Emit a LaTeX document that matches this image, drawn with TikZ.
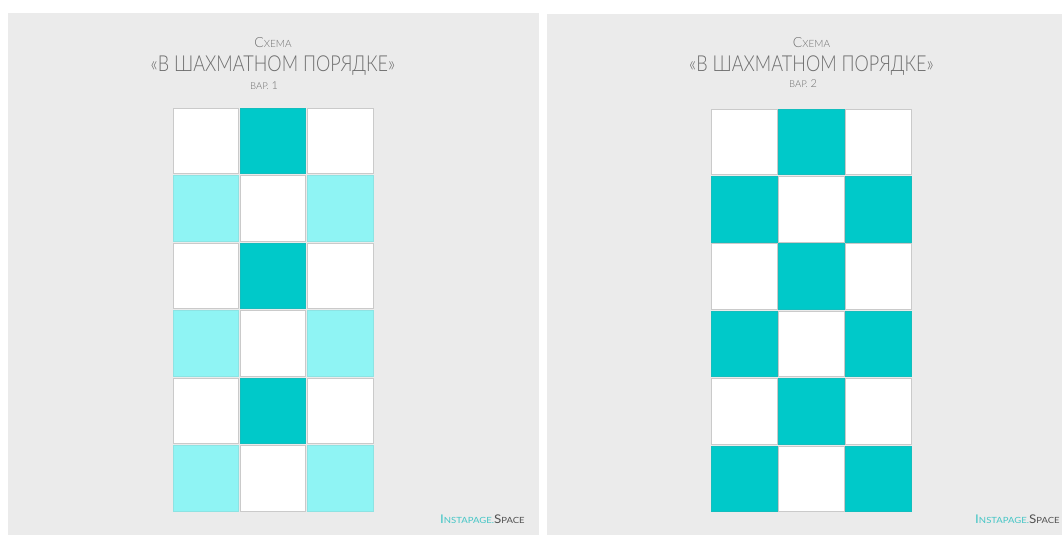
\documentclass[tikz,border=0pt]{standalone}
\usepackage{fontspec}
\usepackage{graphicx}
\setmainfont{Lato Light}
\newfontfamily\logofont{Lato}
\usetikzlibrary{positioning}
\definecolor{panelgray}{HTML}{EBEBEB}
\definecolor{tealdark}{HTML}{00C9C9}
\definecolor{teallight}{HTML}{8FF4F4}
\definecolor{textgray}{HTML}{6E6E6E}
\definecolor{logoteal}{HTML}{45C6C6}
\definecolor{logogray}{HTML}{505050}
\definecolor{cellline}{HTML}{CACACA}
\newcommand{\titletext}{\scalebox{0.82}[1]{\fontsize{22}{22}\selectfont «В ШАХМАТНОМ ПОРЯДКЕ»}}
\newcommand{\logotext}{\scalebox{1.12}[1]{\logofont\color{logoteal}\fontsize{12}{12}\selectfont I\fontsize{8.5}{9}\selectfont NSTAPAGE.\color{logogray}\fontsize{12}{12}\selectfont S\fontsize{8.5}{9}\selectfont PACE}}

\begin{document}
\begin{tikzpicture}[x=1pt,y=-1pt,every node/.style={text=textgray,inner sep=0pt},
  cell/.style={draw=cellline,line width=0.7pt,minimum size=65.5pt,fill=white},
  dark/.style={cell,fill=tealdark,draw=tealdark!85!gray},
  light/.style={cell,fill=teallight,draw=teallight!85!gray}]
\useasboundingbox (0,0) rectangle (1062,535);
\fill[white] (0,0) rectangle (1062,535);
\fill[panelgray] (8,13) rectangle (539,535);
\fill[panelgray] (547,14) rectangle (1062,535);
% var. 1
\foreach \r/\sa/\sb/\sc in {0/cell/dark/cell,1/light/cell/light,2/cell/dark/cell,3/light/cell/light,4/cell/dark/cell,5/light/cell/light}{
  \node[\sa] (a-\r-1) at (205.7,140.75+67.5*\r) {};
  \node[\sb] (a-\r-2) at (273,140.75+67.5*\r) {};
  \node[\sc] (a-\r-3) at (340.3,140.75+67.5*\r) {};
}
\node[anchor=base] (schemeA) at (273,48) {\fontsize{14}{14}\selectfont С\fontsize{10}{10}\selectfont ХЕМА};
\node[anchor=base] (titleA) at (273,71) {\titletext};
\node[anchor=base] (varA) at (264,89) {\fontsize{9.5}{9}\selectfont ВАР. \fontsize{11}{11}\selectfont 1};
\node[anchor=base west] (logoA) at (440,523) {\logotext};
% var. 2
\foreach \r/\sa/\sb/\sc in {0/cell/dark/cell,1/dark/cell/dark,2/cell/dark/cell,3/dark/cell/dark,4/cell/dark/cell,5/dark/cell/dark}{
  \node[\sa] (b-\r-1) at (744.5,141.7+67.4*\r) {};
  \node[\sb] (b-\r-2) at (811.5,141.7+67.4*\r) {};
  \node[\sc] (b-\r-3) at (878.5,141.7+67.4*\r) {};
}
\node[anchor=base] (schemeB) at (811.5,48) {\fontsize{14}{14}\selectfont С\fontsize{10}{10}\selectfont ХЕМА};
\node[anchor=base] (titleB) at (811.5,71) {\titletext};
\node[anchor=base] (varB) at (803,88) {\fontsize{9.5}{9}\selectfont ВАР. \fontsize{11}{11}\selectfont 2};
\node[anchor=base west] (logoB) at (975,523) {\logotext};
\end{tikzpicture}
\end{document}
